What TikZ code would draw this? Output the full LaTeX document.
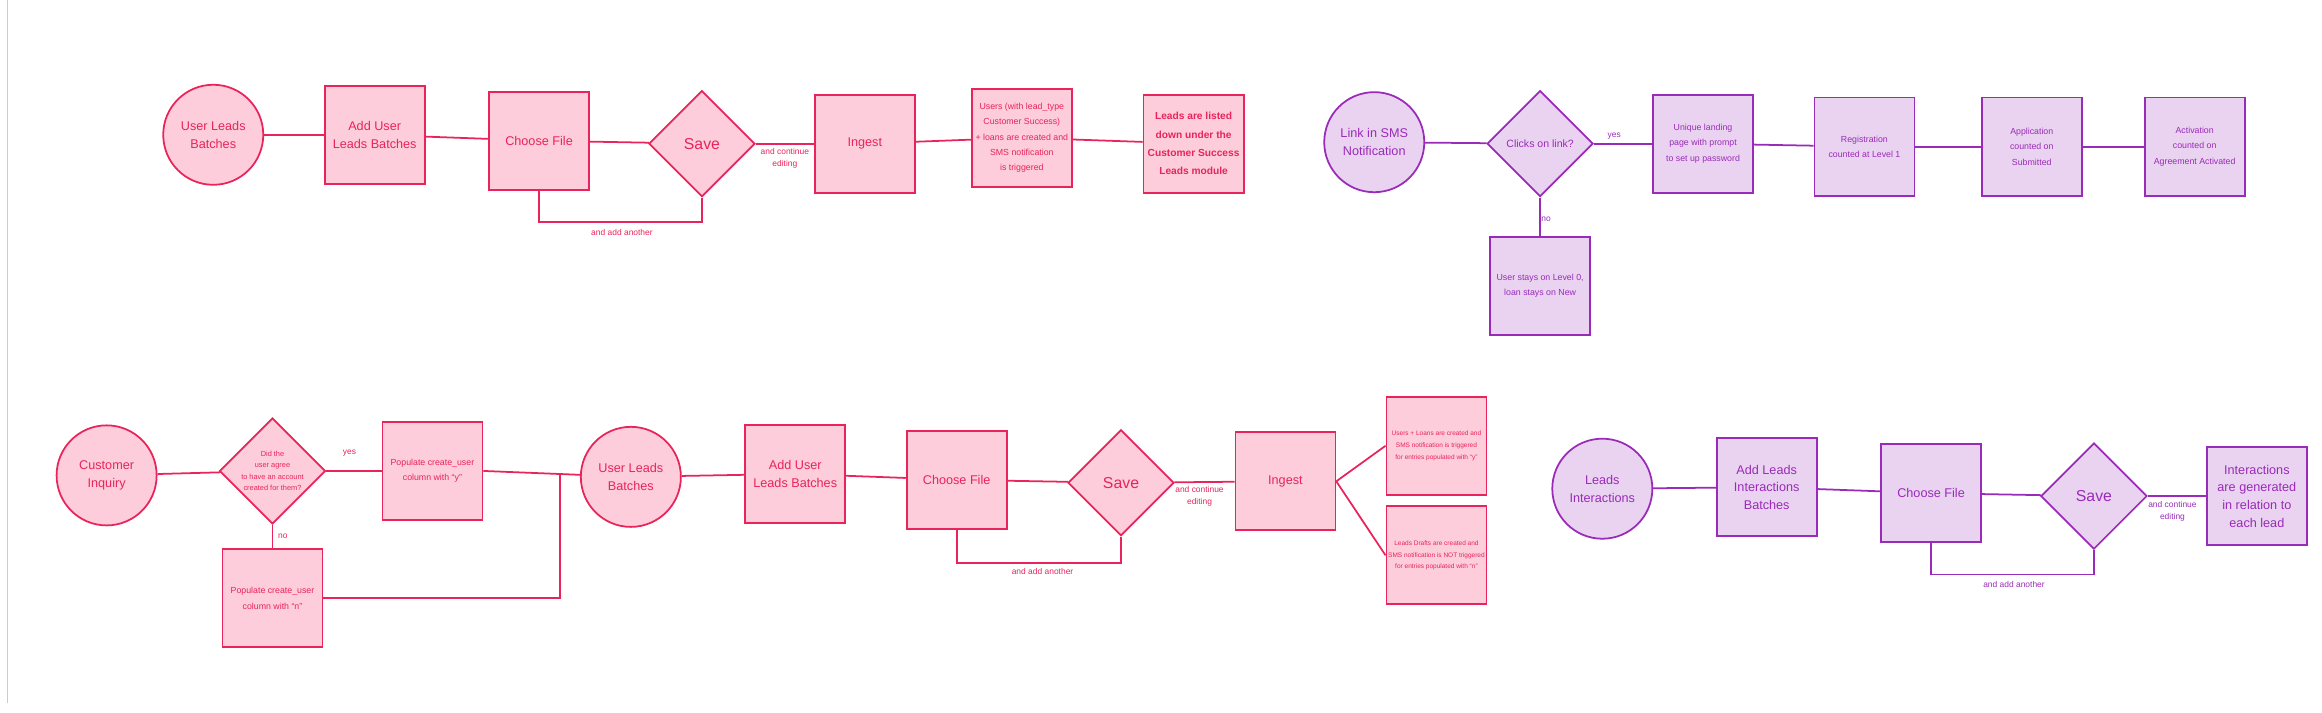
\documentclass[tikz,border=0pt]{standalone}
\usepackage{fontspec}
\setmainfont{Liberation Sans}
\usetikzlibrary{shapes.geometric}
\definecolor{pf}{HTML}{FDCDDB}
\definecolor{ps}{HTML}{E8245A}
\definecolor{vf}{HTML}{E9D3F0}
\definecolor{vs}{HTML}{9A2BB8}
\tikzset{
 pk/.style={draw=ps,fill=pf,text=ps,line width=0.5pt},
 vi/.style={draw=vs,fill=vf,text=vs,line width=0.5pt},
 sq/.style={rectangle,minimum width=1cm,minimum height=0.98cm,inner sep=0.5pt,align=center},
 ci/.style={circle,minimum size=1.0cm,inner sep=0pt,align=center},
 di/.style={diamond,minimum size=1.06cm,inner sep=0pt,align=center},
 big/.style={font=\fontsize{3.6}{5}\selectfont},
 sm/.style={font=\fontsize{2.5}{4.4}\selectfont},
 tiny/.style={font=\fontsize{1.85}{3.3}\selectfont},
 lp/.style={draw=ps,line width=0.5pt},
 lv/.style={draw=vs,line width=0.5pt},
 lab/.style={font=\fontsize{2.4}{3.4}\selectfont,align=center,inner sep=0pt},
}
\begin{document}
\begin{tikzpicture}[x=0.0148cm,y=-0.0148cm]
\useasboundingbox (0,0) rectangle (1568,481);
\draw[gray!40,line width=0.4pt] (5,0) -- (5,475);
% top pink
\node[pk,ci,big] (c1) at (144,91) {User Leads\\Batches};
\node[pk,sq,big] (b1) at (253,91) {Add User\\Leads Batches};
\node[pk,sq,big] (b2) at (364,95) {Choose File};
\node[pk,di,font=\fontsize{4.5}{5}\selectfont] (d1) at (474,97) {Save};
\node[pk,sq,big] (b3) at (584,97) {Ingest};
\node[pk,sq,sm] (b4) at (690,93) {Users (with lead\_type\\Customer Success)\\+ loans are created and\\SMS notification\\is triggered};
\node[pk,sq,font=\bfseries\fontsize{2.9}{5.2}\selectfont] (b5) at (806,97) {Leads are listed\\down under the\\Customer Success\\Leads module};
\draw[lp] (c1)--(b1); \draw[lp] (b1)--(b2); \draw[lp] (b2)--(d1); \draw[lp] (d1)--(b3);
\draw[lp] (b3)--(b4); \draw[lp] (b4)--(b5);
\coordinate (l1) at (364,150);
\draw[lp] (b2.south) -- (l1) -| (d1.south);
\node[lab,text=ps] at (420,157) {and add another};
\node[lab,text=ps] at (530,107) {and continue\\editing};
% top purple
\node[vi,ci,big] (c2) at (928,96) {Link in SMS\\Notification};
\node[vi,di,font=\fontsize{3}{4}\selectfont] (d2) at (1040,97) {Clicks on link?};
\node[vi,sq,sm] (p1) at (1150,97) {Unique landing\\page with prompt\\to set up password};
\node[vi,sq,sm] (p2) at (1259,99) {Registration\\counted at Level 1};
\node[vi,sq,sm] (p3) at (1372,99) {Application\\counted on\\Submitted};
\node[vi,sq,sm] (p4) at (1482,99) {Activation\\counted on\\Agreement Activated};
\node[vi,sq,sm] (p5) at (1040,193) {User stays on Level 0,\\loan stays on New};
\draw[lv] (c2)--(d2); \draw[lv] (d2)--(p1); \draw[lv] (p1)--(p2); \draw[lv] (p2)--(p3); \draw[lv] (p3)--(p4);
\draw[lv] (d2)--(p5);
\node[lab,text=vs] at (1090,92) {yes};
\node[lab,text=vs] at (1044,148) {no};
% bottom pink
\node[pk,ci,big] (c3) at (72,321) {Customer\\Inquiry};
\node[pk,di,font=\fontsize{2.1}{3.3}\selectfont] (d3) at (184,318) {Did the\\user agree\\to have an account\\created for them?};
\node[pk,sq,sm] (b6) at (292,318) {Populate create\_user\\column with ``y''};
\node[pk,sq,sm] (b7) at (184,404) {Populate create\_user\\column with ``n''};
\node[pk,ci,big] (c4) at (426,322) {User Leads\\Batches};
\node[pk,sq,big] (b8) at (537,320) {Add User\\Leads Batches};
\node[pk,sq,big] (b9) at (646,324) {Choose File};
\node[pk,di,font=\fontsize{4.5}{5}\selectfont] (d4) at (757,326) {Save};
\node[pk,sq,big] (b10) at (868,325) {Ingest};
\node[pk,sq,tiny] (b11) at (970,301) {Users + Loans are created and\\SMS notification is triggered\\for entries populated with ``y''};
\node[pk,sq,tiny] (b12) at (970,375) {Leads Drafts are created and\\SMS notification is NOT triggered\\for entries populated with ``n''};
\draw[lp] (c3)--(d3); \draw[lp] (d3)--(b6); \draw[lp] (d3)--(b7);
\draw[lp] (b6.east) -- (c4);
\coordinate (m1) at (378,320);
\draw[lp] (b7.east) -| (m1);
\draw[lp] (c4)--(b8); \draw[lp] (b8)--(b9); \draw[lp] (b9)--(d4); \draw[lp] (d4)--(b10);
\draw[lp] (b10.east) -- (b11.west); \draw[lp] (b10.east) -- (b12.west);
\coordinate (l2) at (646,380);
\draw[lp] (b9.south) -- (l2) -| (d4.south);
\node[lab,text=ps] at (704,386) {and add another};
\node[lab,text=ps] at (810,335) {and continue\\editing};
\node[lab,text=ps] at (236,306) {yes};
\node[lab,text=ps] at (191,362) {no};
% bottom purple
\node[vi,ci,big] (c5) at (1082,330) {Leads\\Interactions};
\node[vi,sq,big] (p6) at (1193,329) {Add Leads\\Interactions\\Batches};
\node[vi,sq,big] (p7) at (1304,333) {Choose File};
\node[vi,di,font=\fontsize{4.5}{5}\selectfont] (d5) at (1414,335) {Save};
\node[vi,sq,big] (p8) at (1524,335) {Interactions\\are generated\\in relation to\\each lead};
\draw[lv] (c5)--(p6); \draw[lv] (p6)--(p7); \draw[lv] (p7)--(d5); \draw[lv] (d5)--(p8);
\coordinate (l3) at (1304,388);
\draw[lv] (p7.south) -- (l3) -| (d5.south);
\node[lab,text=vs] at (1360,395) {and add another};
\node[lab,text=vs] at (1467,345) {and continue\\editing};
\end{tikzpicture}
\end{document}
